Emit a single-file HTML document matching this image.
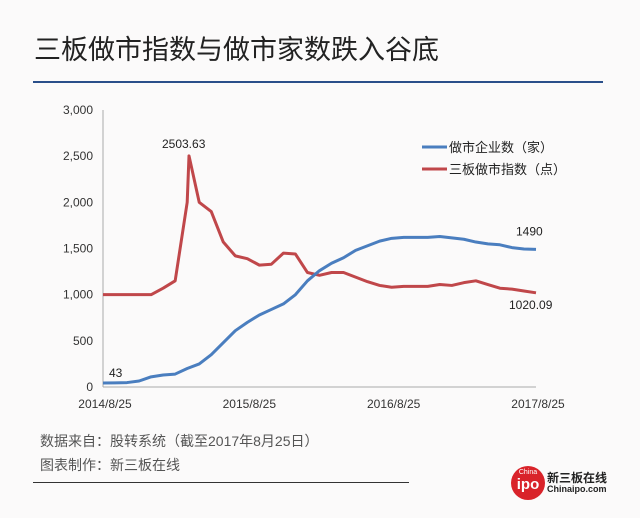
<!DOCTYPE html>
<html><head><meta charset="utf-8"><style>
body{margin:0;background:#fbfafa;}
#root{position:relative;width:640px;height:518px;overflow:hidden;background:#fbfafa;font-family:"Liberation Sans","Noto Sans CJK SC",sans-serif;}
.t{position:absolute;white-space:nowrap;}
</style></head><body>
<div id="root">
<div class="t" style="left:34px;top:28px;font-size:27px;color:#222;">三板做市指数与做市家数跌入谷底</div>
<div style="position:absolute;left:33px;top:81px;width:570px;height:2px;background:#2a4f8a;"></div>
<svg id="chart" width="640" height="518" style="position:absolute;left:0;top:0;font-family:'Liberation Sans','Noto Sans CJK SC',sans-serif;"></svg>
<div class="t" style="left:40px;top:431px;font-size:14px;color:#555;">数据来自：股转系统（截至2017年8月25日）</div>
<div class="t" style="left:40px;top:455px;font-size:14px;color:#555;">图表制作：新三板在线</div>
<div style="position:absolute;left:33px;top:482px;width:376px;height:1px;background:#333;"></div>
<div style="position:absolute;left:511px;top:466px;width:34px;height:34px;border-radius:50%;background:#d9232a;color:#fff;text-align:center;">
<div style="font-size:7px;line-height:9px;margin-top:2px;">China</div><div style="font-size:15px;font-weight:bold;line-height:16px;">ipo</div></div>
<div class="t" style="left:547px;top:469px;font-size:12px;color:#222;font-weight:bold;">新三板在线</div>
<div class="t" style="left:547px;top:484px;font-size:9px;color:#222;font-weight:bold;">Chinaipo.com</div>
</div>
<script>
const blueMonths=[0,1,2,3,4,5,6,7,8,9,10,11,12,13,14,15,16,17,18,19,20,21,22,23,24,25,26,27,28,29,30,31,32,33,34,35,36];
const blueValues=[43,45,48,65,110,130,140,200,250,350,480,610,700,780,840,900,1000,1150,1260,1340,1400,1480,1530,1580,1610,1620,1620,1620,1630,1615,1600,1570,1550,1540,1510,1495,1490];
const redMonths=[0,1,2,3,4,5,6,7,7.15,8,9,10,11,12,13,14,15,16,17,18,19,20,21,22,23,24,25,26,27,28,29,30,31,32,33,34,35,36];
const redValues=[1000,1000,1000,1000,1000,1070,1150,2000,2503.63,2000,1900,1570,1420,1390,1320,1330,1450,1440,1240,1210,1240,1240,1190,1140,1100,1080,1090,1090,1090,1110,1100,1130,1150,1110,1070,1060,1040,1020.09];
const yTicks=[0,500,1000,1500,2000,2500,3000];
const yTickLabels=["0","500","1,000","1,500","2,000","2,500","3,000"];
const xTickMonths=[0,12,24,36];
const xTickLabels=["2014/8/25","2015/8/25","2016/8/25","2017/8/25"];
const svg=document.getElementById('chart');const NS='http://www.w3.org/2000/svg';
const X=m=>103+m*(536-103)/36;const Y=v=>387-v*(387-110)/3000;
function mk(t,a){const e=document.createElementNS(NS,t);for(const k in a)e.setAttribute(k,a[k]);svg.appendChild(e);return e;}
let e=mk('line',{x1:103,y1:110,x2:103,y2:387,stroke:'#aaa','stroke-width':1});

e=mk('line',{x1:103,y1:387,x2:536,y2:387,stroke:'#aaa','stroke-width':1});

yTicks.forEach((v,i)=>{const t=mk('text',{x:93,y:Y(v)+4,'text-anchor':'end','font-size':12,fill:'#333'});t.textContent=yTickLabels[i];
});
xTickMonths.forEach((m,i)=>{const t=mk('text',{x:X(m)+2,y:408,'text-anchor':'middle','font-size':12,fill:'#333'});t.textContent=xTickLabels[i];
});
function line(ms,vs,c,n){const p=mk('polyline',{points:ms.map((m,i)=>X(m)+','+Y(vs[i])).join(' '),fill:'none',stroke:c,'stroke-width':3,'stroke-linejoin':'round'});
}
line(redMonths,redValues,'#c0474a','index-line');
line(blueMonths,blueValues,'#4a7ebf','firm-count-line');
function lab(x,y,s,n){const t=mk('text',{x:x,y:y,'font-size':12,fill:'#222'});t.textContent=s;}
const pk=redValues.indexOf(Math.max(...redValues));
lab(X(redMonths[pk])-27,Y(redValues[pk])-8,String(redValues[pk]),'peak-label');
lab(X(0)+6,Y(blueValues[0])-6,String(blueValues[0]),'start-label');
lab(X(36)-20,Y(blueValues[36])-14,String(blueValues[36]),'end-firm-label');
lab(X(36)-27,Y(redValues[redValues.length-1])+16,redValues[redValues.length-1].toFixed(2),'end-index-label');
[['#4a7ebf','做市企业数（家）',147,'legend-firm-count'],['#c0474a','三板做市指数（点）',169,'legend-index']].forEach(d=>{
const g=mk('g',{});
const l=document.createElementNS(NS,'line');l.setAttribute('x1',422);l.setAttribute('x2',447);l.setAttribute('y1',d[2]);l.setAttribute('y2',d[2]);l.setAttribute('stroke',d[0]);l.setAttribute('stroke-width',3);g.appendChild(l);
const t=document.createElementNS(NS,'text');t.setAttribute('x',449);t.setAttribute('y',d[2]+5);t.setAttribute('font-size',13);t.setAttribute('fill','#222');t.textContent=d[1];g.appendChild(t);});
</script>
</body></html>
